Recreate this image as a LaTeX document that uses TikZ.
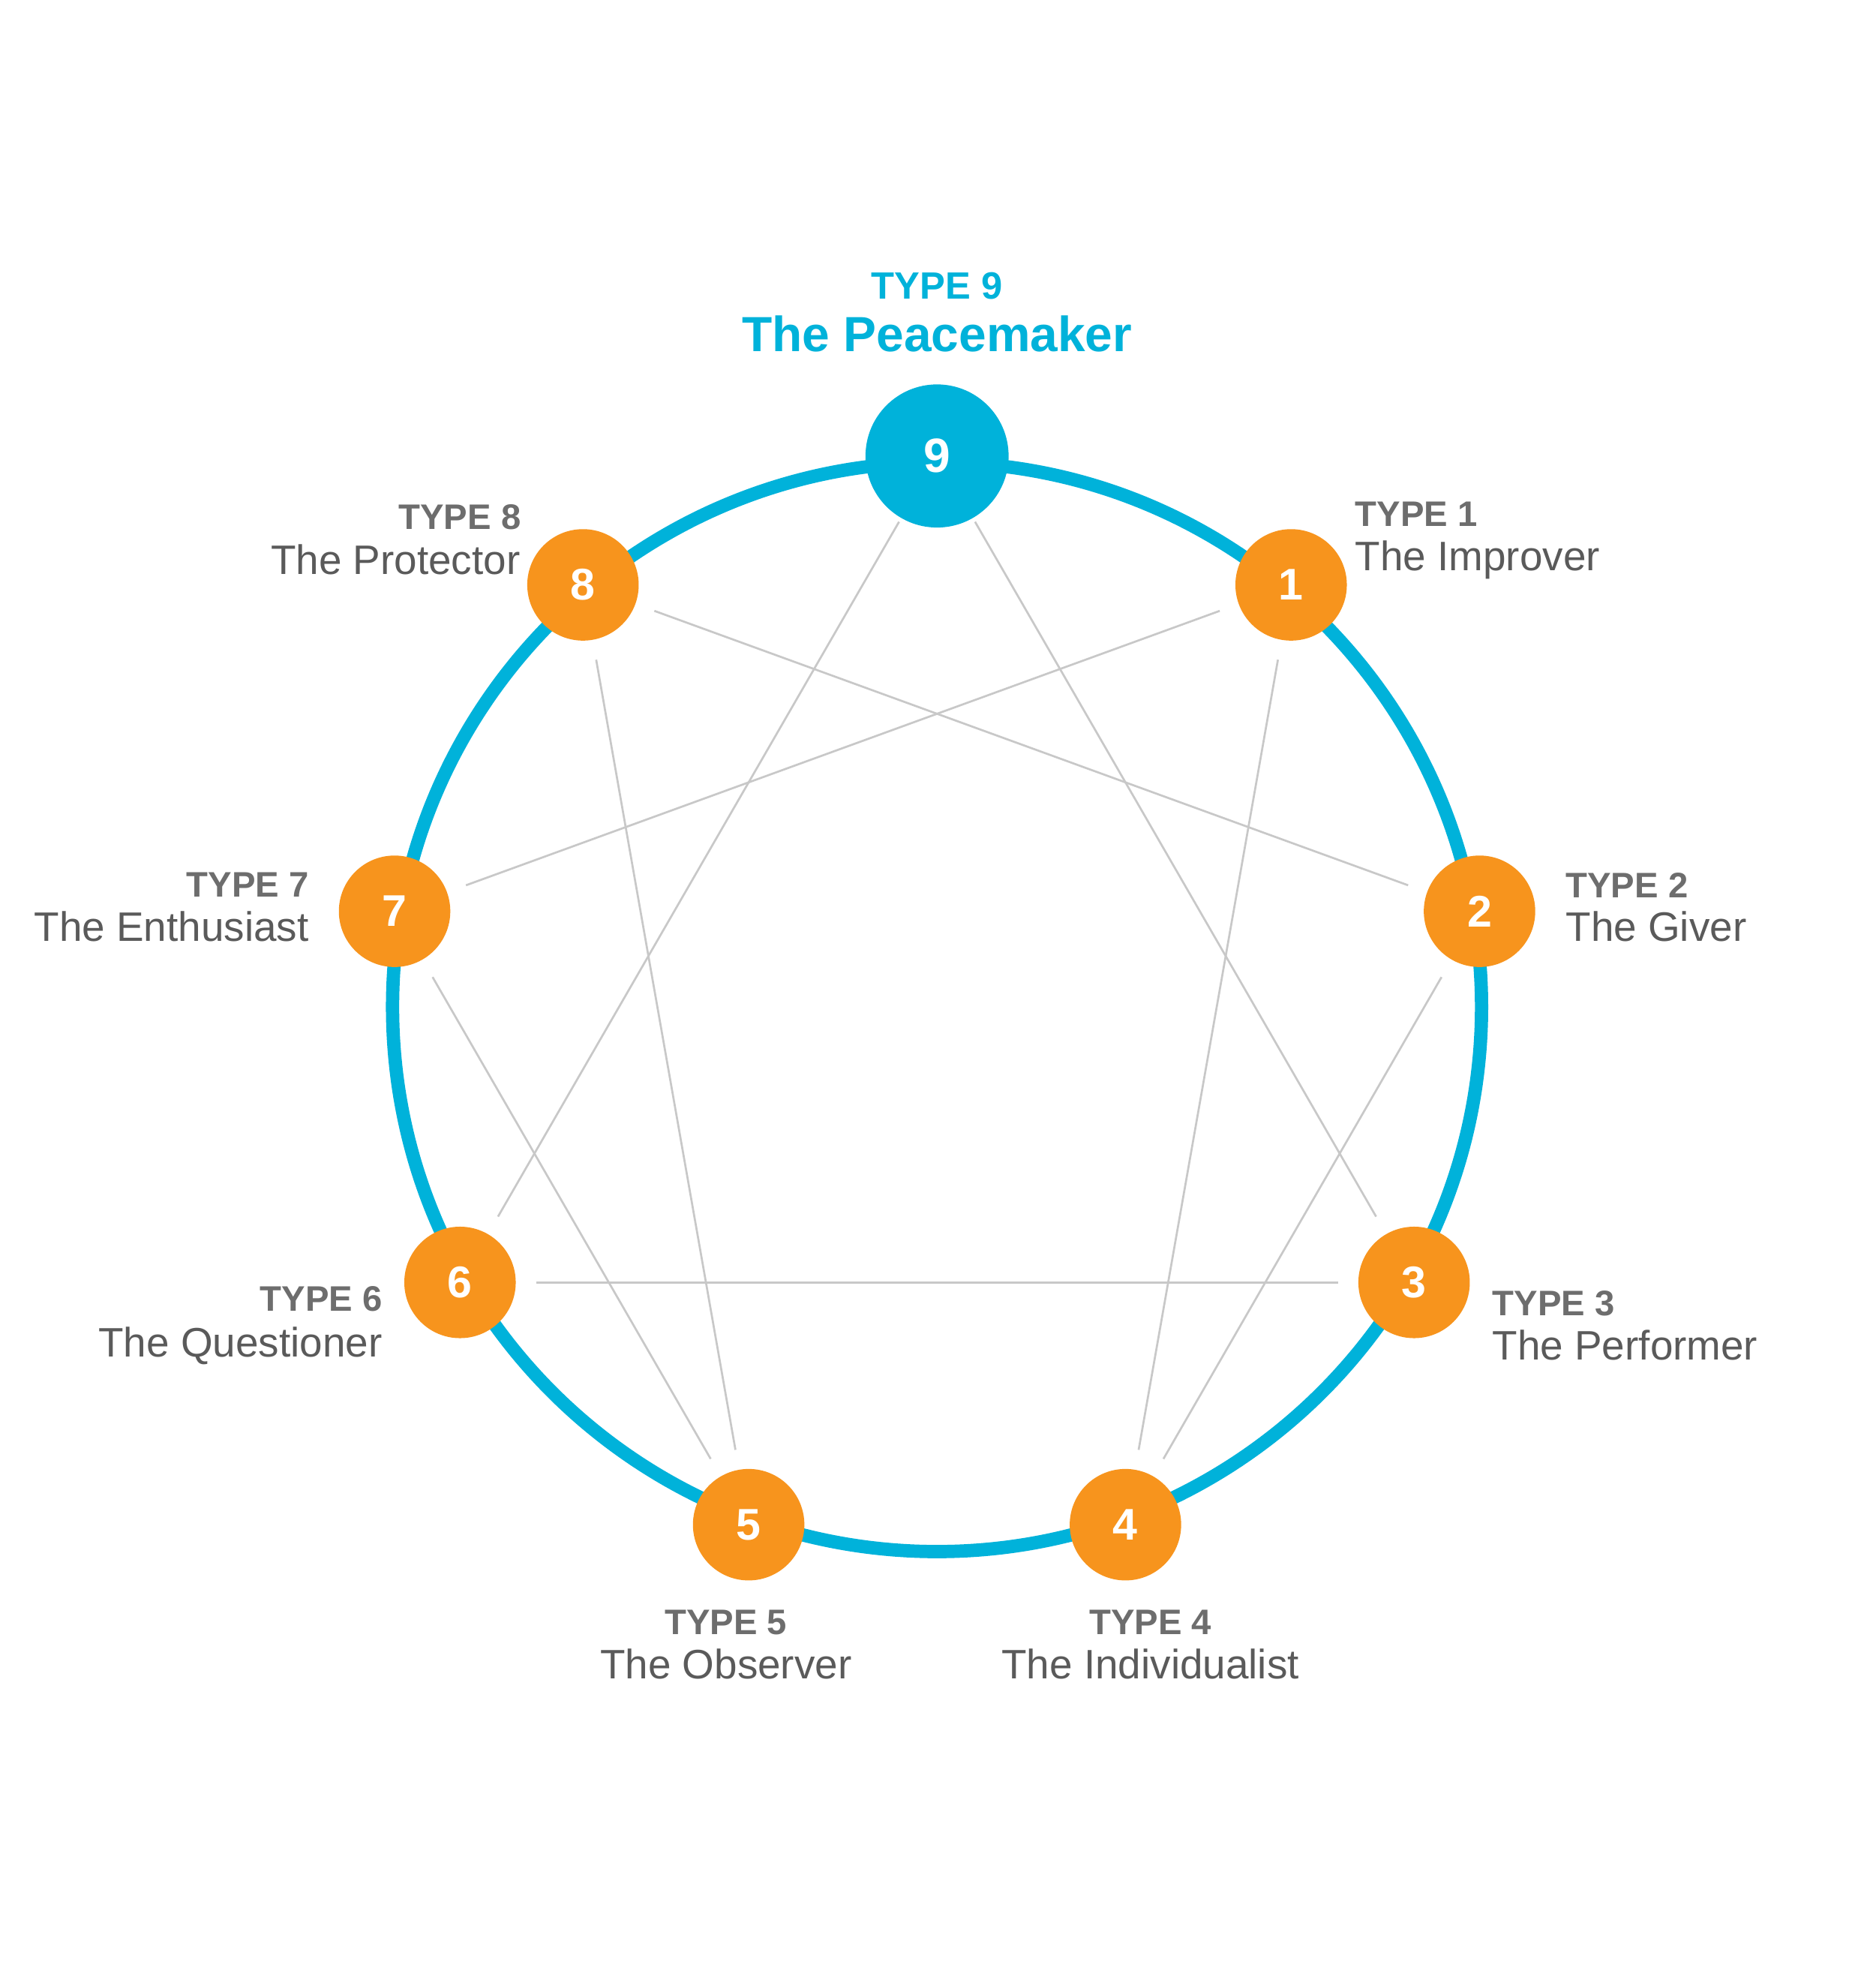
\documentclass[tikz,border=0pt]{standalone}
\usepackage{fontspec}
\setmainfont{Liberation Sans}
\definecolor{eblue}{HTML}{00B2DA}
\definecolor{eorange}{HTML}{F7941D}
\definecolor{linegray}{HTML}{C8C8C8}
\definecolor{typegray}{HTML}{6D6D6D}
\definecolor{namegray}{HTML}{5A5A5A}
\begin{document}
\begin{tikzpicture}[x=1pt,y=-1pt,
  ring/.style={draw=eblue,line width=10.5pt},
  bignode/.style={circle,fill=eblue,minimum size=113pt,inner sep=0pt,text=white,font=\fontsize{38}{38}\selectfont\bfseries},
  numnode/.style={circle,fill=eorange,minimum size=88pt,inner sep=0pt,text=white,font=\fontsize{35}{35}\selectfont\bfseries},
  conn/.style={draw=linegray,line width=1.6pt,shorten <=60pt,shorten >=60pt},
  typelbl/.style={text=typegray,font=\fontsize{28}{28}\selectfont\bfseries,inner sep=0pt},
  namelbl/.style={text=namegray,font=\fontsize{32.5}{32.5}\selectfont,inner sep=0pt},
  ninetype/.style={text=eblue,font=\fontsize{30}{30}\selectfont\bfseries,inner sep=0pt},
  ninename/.style={text=eblue,font=\fontsize{39}{39}\selectfont\bfseries,inner sep=0pt},
]
\fill[white] (0,0) rectangle (1481,1568);
\useasboundingbox (0,0) rectangle (1481,1568);

\draw[ring] (740,795) circle[radius=430];

\node[bignode] (n9) at (740,360) {9};
\node[numnode] (n1) at ({740+435*cos(50)},{795-435*sin(50)}) {1};
\node[numnode] (n2) at ({740+435*cos(10)},{795-435*sin(10)}) {2};
\node[numnode] (n3) at ({740+435*cos(-30)},{795-435*sin(-30)}) {3};
\node[numnode] (n4) at ({740+435*cos(-70)},{795-435*sin(-70)}) {4};
\node[numnode] (n5) at ({740+435*cos(-110)},{795-435*sin(-110)}) {5};
\node[numnode] (n6) at ({740+435*cos(-150)},{795-435*sin(-150)}) {6};
\node[numnode] (n7) at ({740+435*cos(170)},{795-435*sin(170)}) {7};
\node[numnode] (n8) at ({740+435*cos(130)},{795-435*sin(130)}) {8};

\draw[conn] (n9.center) -- (n3.center);
\draw[conn] (n3.center) -- (n6.center);
\draw[conn] (n6.center) -- (n9.center);
\draw[conn] (n1.center) -- (n4.center);
\draw[conn] (n4.center) -- (n2.center);
\draw[conn] (n2.center) -- (n8.center);
\draw[conn] (n8.center) -- (n5.center);
\draw[conn] (n5.center) -- (n7.center);
\draw[conn] (n7.center) -- (n1.center);

\node[ninetype,anchor=base] (t9) at (740,236) {TYPE 9};
\node[ninename,anchor=base] (m9) at (740,277.5) {The Peacemaker};

\node[typelbl,anchor=base west] (t1) at (1070,415.7) {TYPE 1};
\node[namelbl,anchor=base west] (m1) at (1070,450.2) {The Improver};

\node[typelbl,anchor=base west] (t2) at (1236.4,708.5) {TYPE 2};
\node[namelbl,anchor=base west] (m2) at (1236.4,742.9) {The Giver};

\node[typelbl,anchor=base west] (t3) at (1178.4,1038.7) {TYPE 3};
\node[namelbl,anchor=base west] (m3) at (1178.4,1073.6) {The Performer};

\node[typelbl,anchor=base] (t4) at (908.5,1290.5) {TYPE 4};
\node[namelbl,anchor=base] (m4) at (908.5,1325.4) {The Individualist};

\node[typelbl,anchor=base] (t5) at (573.3,1290.5) {TYPE 5};
\node[namelbl,anchor=base] (m5) at (573.3,1325.4) {The Observer};

\node[typelbl,anchor=base east] (t6) at (302,1035) {TYPE 6};
\node[namelbl,anchor=base east] (m6) at (302,1071) {The Questioner};

\node[typelbl,anchor=base east] (t7) at (244,708) {TYPE 7};
\node[namelbl,anchor=base east] (m7) at (244,743) {The Enthusiast};

\node[typelbl,anchor=base east] (t8) at (411.5,418.2) {TYPE 8};
\node[namelbl,anchor=base east] (m8) at (411,453.2) {The Protector};
\end{tikzpicture}
\end{document}
